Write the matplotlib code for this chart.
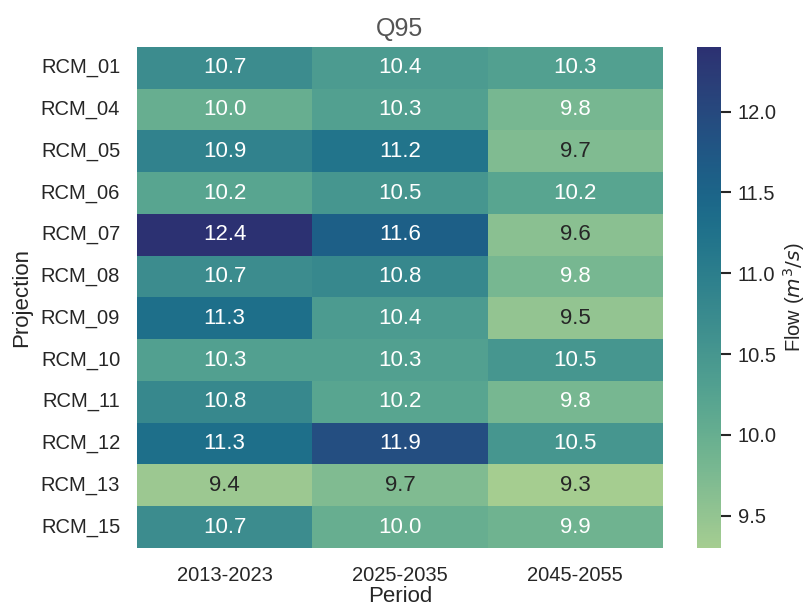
import matplotlib
matplotlib.use("Agg")
import matplotlib.pyplot as plt
import seaborn as sns
import numpy as np
import pandas as pd

projections = ["RCM_01", "RCM_04", "RCM_05", "RCM_06", "RCM_07", "RCM_08",
               "RCM_09", "RCM_10", "RCM_11", "RCM_12", "RCM_13", "RCM_15"]
periods = ["2013-2023", "2025-2035", "2045-2055"]
p2013_2023 = [10.7, 10.0, 10.9, 10.2, 12.4, 10.7, 11.3, 10.3, 10.8, 11.3, 9.4, 10.7]
p2025_2035 = [10.4, 10.3, 11.2, 10.5, 11.6, 10.8, 10.4, 10.3, 10.2, 11.9, 9.7, 10.0]
p2045_2055 = [10.3, 9.8, 9.7, 10.2, 9.6, 9.8, 9.5, 10.5, 9.8, 10.5, 9.3, 9.9]

df = pd.DataFrame({periods[0]: p2013_2023, periods[1]: p2025_2035,
                   periods[2]: p2045_2055}, index=projections)

sns.set_theme(style="white")
plt.rcParams['font.family'] = ['Liberation Sans', 'DejaVu Sans']
txt = "#262626"

fig = plt.figure(figsize=(8.1, 6.07), dpi=100)
ax = fig.add_axes([0.169, 0.0972, 0.6495, 0.8254])
cax = fig.add_axes([0.8605, 0.0972, 0.0296, 0.8254])

sns.heatmap(df, ax=ax, cbar_ax=cax, cmap="crest", annot=True, fmt=".1f",
            annot_kws={"fontsize": 16})

ax.set_title("Q95", fontsize=18, color="#555555", pad=8)
ax.set_xlabel("Period", fontsize=16, color=txt, labelpad=1)
ax.set_ylabel("Projection", fontsize=16, color=txt, labelpad=6)
ax.tick_params(axis="both", length=0, labelsize=14.5, colors=txt, pad=12)
ax.tick_params(axis="y", rotation=0)
ax.tick_params(axis="x", pad=13)

cax.tick_params(labelsize=14.5, colors=txt, length=7, width=1.5, left=False,
                right=True, pad=5)
cax.set_ylabel("Flow ($m^3/s$)", fontsize=14.5, color=txt, labelpad=3)
for s in cax.spines.values():
    s.set_visible(False)

fig.savefig("out.png", dpi=100, facecolor="white")
